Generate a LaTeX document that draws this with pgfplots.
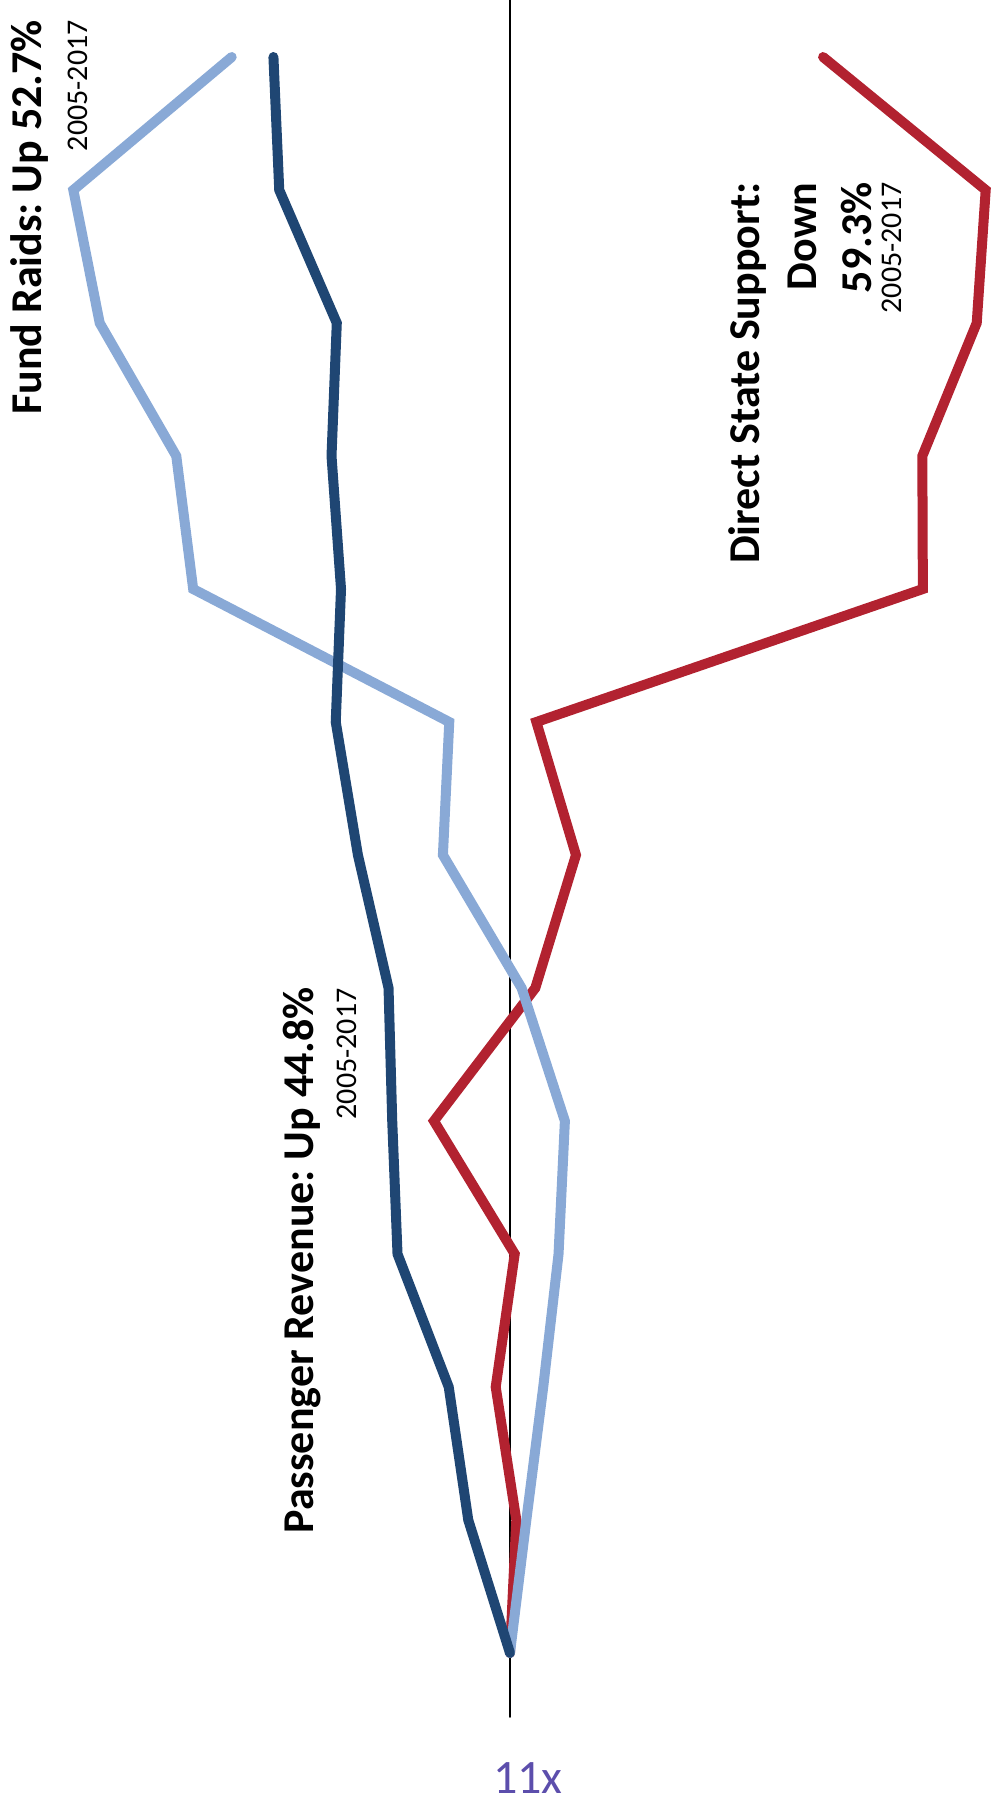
\documentclass[border=0pt]{standalone}
\usepackage{pgfplots}
\pgfplotsset{compat=1.18}
\usepackage{pgfplotstable}
\usepackage{fontspec}
\setmainfont{Carlito}
\frenchspacing

\definecolor{fundblue}{RGB}{137,169,214}
\definecolor{passblue}{RGB}{31,70,115}
\definecolor{statered}{RGB}{178,34,48}
\definecolor{inkpurple}{RGB}{92,78,172}

% Percent change since 2005
\pgfplotstableread{
year  fund   passenger  state
2005   0.0    0.0        0.0
2006  -3.1    7.9       -1.2
2007  -6.3   11.6        2.7
2008  -9.2   21.3       -0.9
2009 -10.4   22.3       14.4
2010  -2.2   23.0       -4.8
2011  12.7   28.8      -12.5
2012  11.5   33.0       -5.0
2013  60.0   32.0      -78.2
2014  63.2   33.8      -78.1
2015  77.7   32.8      -88.4
2016  82.7   43.7      -90.1
2017  52.7   44.8      -59.3
}\trend

\begin{document}
\begin{tikzpicture}
\begin{axis}[
  width=495.5pt, height=903.5pt, scale only axis,
  xmin=-91.10, xmax=96.59, x dir=reverse,
  ymin=2003.842, ymax=2017.429,
  axis lines=none, ticks=none,
  clip=true,
  every axis plot/.append style={line join=miter, miter limit=4, line cap=round},
]
% zero line
\addplot[black, line width=1.1pt] coordinates {(0,2004.52) (0,2017.429)};

\addplot[statered, line width=5pt] table[x=state, y=year] {\trend};
\addplot[fundblue, line width=5pt] table[x=fund, y=year] {\trend};
\addplot[passblue, line width=5pt] table[x=passenger, y=year] {\trend};

% labels
\node[rotate=90, anchor=base east, font=\fontsize{22}{26}\selectfont\bfseries] at (axis cs:88.64,2017.33) {Fund Raids: Up 52.7\%};
\node[rotate=90, anchor=base east, font=\fontsize{15}{18}\selectfont] at (axis cs:80.0,2017.33) {2005-2017};

\node[rotate=90, anchor=base east, font=\fontsize{22}{26}\selectfont\bfseries] at (axis cs:37.3,2010.06) {Passenger Revenue: Up 44.8\%};
\node[rotate=90, anchor=base east, font=\fontsize{15}{18}\selectfont] at (axis cs:29.0,2010.05) {2005-2017};

\node[rotate=90, anchor=base east, font=\fontsize{22}{26}\selectfont\bfseries] at (axis cs:-47.35,2016.11) {Direct State Support:};
\node[rotate=90, anchor=base east, font=\fontsize{22}{26}\selectfont\bfseries] at (axis cs:-58.1,2016.11) {Down};
\node[rotate=90, anchor=base east, font=\fontsize{22}{26}\selectfont\bfseries] at (axis cs:-68.4,2016.11) {59.3\%};
\node[rotate=90, anchor=base east, font=\fontsize{15}{18}\selectfont] at (axis cs:-74.2,2016.11) {2005-2017};

\node[inkpurple, font=\fontsize{24}{28}\selectfont] at (axis cs:-3.4,2004.06) {11x};
\end{axis}
\pgfresetboundingbox
\path[use as bounding box] (current axis.south west) rectangle (current axis.north east);
\end{tikzpicture}
\end{document}
